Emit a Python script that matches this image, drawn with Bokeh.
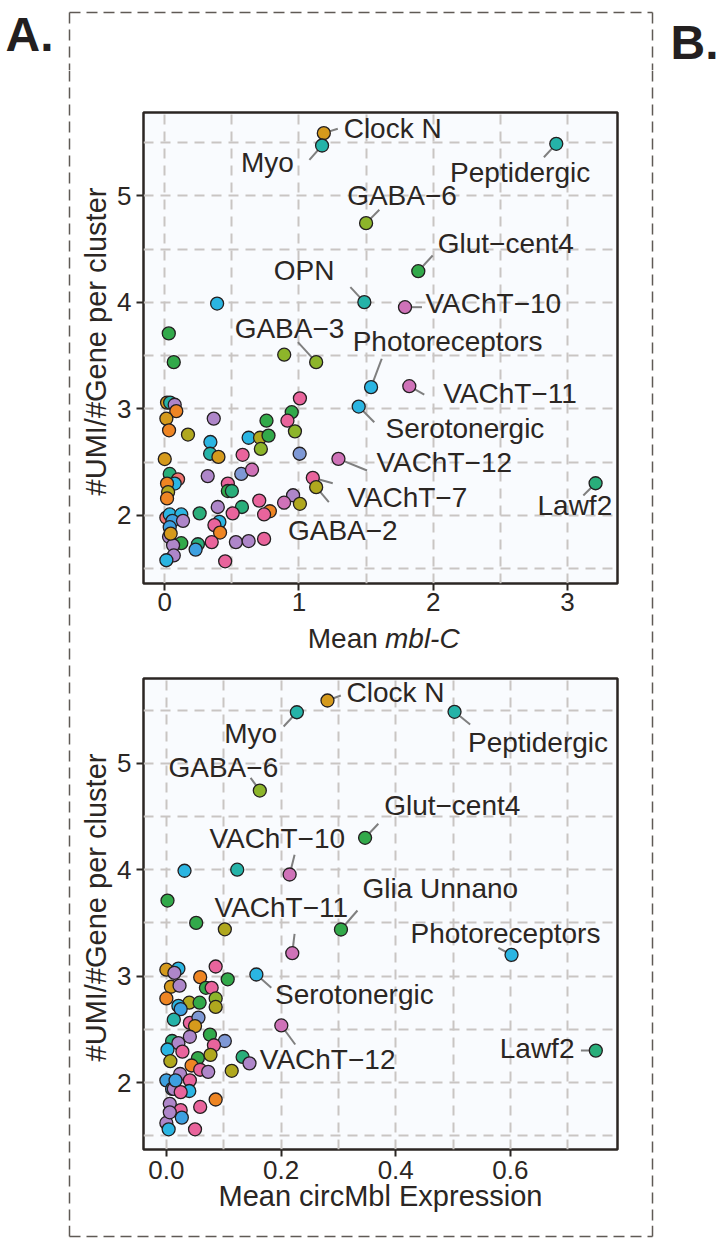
import math
from bokeh.plotting import figure
from bokeh.models import FixedTicker, ColumnDataSource, CustomJSTickFormatter, Range1d
from bokeh.layouts import column, row
from bokeh.embed import file_html
from bokeh.resources import INLINE
from bokeh.core.properties import value

FONT = "Liberation Sans"
INK = "#2B2623"
BOXC = "#5F5A55"
BOXDASH = "11 6"

PAL = {
    "gold": "#D59A1C", "orange": "#EE8523", "salmon": "#F0736E", "olive": "#B0A81E",
    "lime": "#8DB52A", "green": "#32A94A", "tgreen": "#29AE7A", "teal": "#25B3A8",
    "cyan": "#2BB5E2", "blue": "#3DA0E0", "lav": "#7E98D5", "purple": "#AE86C9",
    "orchid": "#CF72B8", "pink": "#E9649C",
}

# ---------------- Panel 1: Mean mbl-C ----------------
top_x = [0.89, 0.067, 0.03, 0.39, 0.017, 0.04, 0.074, 0.086, 0.012, 0.032, 0.173, 0.365,
         0.0, 0.34, 0.338, 0.40, 0.32, 0.037, 0.099, 0.074, 0.017, 0.025, 0.017, 0.47,
         0.47, 0.50, 0.57, 0.65, 0.58, 0.625, 0.71, 0.716, 0.758, 0.773, 1.007, 0.946,
         0.914, 0.97, 1.005, 0.956, 0.889, 1.007, 0.704, 0.783, 0.74, 0.575, 0.506, 0.395,
         0.26, 0.407, 0.37, 0.412, 0.35, 0.53, 0.625, 0.74, 0.45, 0.247, 0.23, 0.123,
         0.012, 0.037, 0.123, 0.057, 0.136, 0.037, 0.032, 0.062, 0.067, 0.012, 0.044]
top_y = [3.51, 3.44, 3.71, 3.99, 3.06, 3.06, 3.04, 2.98, 2.91, 2.80, 2.76, 2.91,
         2.53, 2.69, 2.58, 2.55, 2.37, 2.39, 2.34, 2.30, 2.30, 2.22, 2.16, 2.30,
         2.23, 2.23, 2.39, 2.43, 2.57, 2.73, 2.73, 2.625, 2.89, 2.75, 3.10, 2.97,
         2.89, 2.79, 2.58, 2.19, 2.12, 2.11, 2.14, 2.04, 2.01, 2.08, 2.02, 2.08,
         2.02, 1.94, 1.91, 1.84, 1.75, 1.75, 1.76, 1.78, 1.57, 1.73, 1.68, 1.74,
         1.98, 2.01, 2.01, 1.95, 1.95, 1.89, 1.80, 1.72, 1.625, 1.58, 1.83]
top_c = ["lime", "green", "green", "cyan", "gold", "teal", "purple", "orange", "gold", "orange", "olive", "purple",
         "gold", "cyan", "teal", "gold", "purple", "tgreen", "salmon", "cyan", "orange", "olive", "orange", "pink",
         "green", "tgreen", "lav", "orchid", "pink", "cyan", "olive", "lime", "green", "green", "pink", "green",
         "pink", "lime", "lav", "purple", "orchid", "olive", "pink", "orange", "pink", "tgreen", "pink", "purple",
         "tgreen", "cyan", "pink", "orange", "pink", "purple", "purple", "pink", "pink", "tgreen", "blue", "green",
         "salmon", "cyan", "cyan", "blue", "purple", "blue", "purple", "purple", "purple", "cyan", "gold"]

top_names = ["Clock N", "Myo", "Peptidergic", "GABA\u22126", "Glut\u2212cent4", "OPN", "VAChT\u221210",
             "GABA\u22123", "Photoreceptors", "VAChT\u221211", "Serotonergic", "VAChT\u221212",
             "VAChT\u22127", "GABA\u22122", "Lawf2"]
top_nx = [1.185, 1.172, 2.917, 1.50, 1.889, 1.487, 1.79, 1.128, 1.537, 1.822, 1.445, 1.294, 1.103, 1.128, 3.21]
top_ny = [5.59, 5.474, 5.49, 4.745, 4.294, 4.003, 3.956, 3.44, 3.205, 3.214, 3.023, 2.532, 2.354, 2.266, 2.303]
top_nc = ["gold", "teal", "teal", "lime", "green", "teal", "orchid", "lime", "cyan", "orchid", "cyan", "orchid",
          "pink", "olive", "tgreen"]

# ---------------- Panel 2: Mean circMbl Expression ----------------
bot_x = [0.0317, 0.1236, 0.002, 0.052, 0.102, 0.0, 0.021, 0.014, 0.059, 0.086, 0.107, 0.008,
         0.023, 0.0, 0.069, 0.079, 0.086, 0.086, 0.04, 0.058, 0.021, 0.025, 0.013, 0.041,
         0.056, 0.05, 0.041, 0.076, 0.102, 0.083, 0.01, 0.021, 0.002, 0.028, 0.007, 0.055,
         0.077, 0.133, 0.145, 0.114, 0.044, 0.059, 0.073, 0.024, 0.041, 0.0, 0.01, 0.04,
         0.013, 0.025, 0.086, 0.006, 0.059, 0.025, 0.027, 0.0, 0.004, 0.05, 0.006, 0.016]
bot_y = [3.99, 4.0, 3.71, 3.50, 3.44, 3.06, 3.07, 3.03, 2.99, 3.09, 2.97, 2.90,
         2.91, 2.79, 2.89, 2.89, 2.79, 2.71, 2.75, 2.75, 2.72, 2.69, 2.59, 2.56,
         2.61, 2.53, 2.43, 2.45, 2.39, 2.35, 2.39, 2.37, 2.31, 2.29, 2.20, 2.23,
         2.26, 2.24, 2.18, 2.11, 2.16, 2.12, 2.10, 2.08, 2.02, 2.02, 1.94, 1.92,
         1.94, 1.91, 1.84, 1.80, 1.77, 1.74, 1.67, 1.62, 1.56, 1.56, 1.72, 2.02]
bot_c = ["cyan", "teal", "green", "green", "olive", "gold", "cyan", "purple", "orange", "pink", "green", "gold",
         "purple", "orange", "green", "pink", "lime", "olive", "olive", "green", "cyan", "blue", "teal", "pink",
         "lav", "gold", "purple", "green", "lav", "pink", "tgreen", "purple", "cyan", "pink", "olive", "green",
         "olive", "tgreen", "purple", "olive", "orange", "pink", "purple", "purple", "pink", "blue", "blue", "cyan",
         "purple", "pink", "orange", "purple", "pink", "pink", "blue", "purple", "cyan", "pink", "purple", "blue"]

bot_names = ["Clock N", "Myo", "Peptidergic", "GABA\u22126", "Glut\u2212cent4", "VAChT\u221210",
             "VAChT\u221211", "Glia Unnano", "Photoreceptors", "Serotonergic", "VAChT\u221212", "Lawf2"]
bot_nx = [0.281, 0.2276, 0.5026, 0.163, 0.3466, 0.215, 0.2196, 0.3045, 0.602, 0.157, 0.2005, 0.749]
bot_ny = [5.59, 5.48, 5.484, 4.744, 4.30, 3.955, 3.215, 3.438, 3.20, 3.015, 2.536, 2.30]
bot_nc = ["gold", "teal", "teal", "lime", "green", "orchid", "orchid", "green", "cyan", "cyan", "orchid", "tgreen"]

# ---------------- layout: pixel offsets of label centres / leader ends from their point ----------------
top_lab_off = [(69, -4.7, 14, -4.4), (-54.8, 16.7, -12.7, 14.3), (-36.2, 28.4, -12.4, 13.4),
               (36, -27.7, 13.3, -13.4), (87.7, -27.4, 14.4, -15.7), (-60.3, -31.7, -14, -15),
               (88.5, -3.4, 17, 0), (-26.7, -33.4, -18.3, -20), (76.7, -45.7, 10.7, -28.4),
               (100.9, 7.6, 15, 8.3), (106.5, 22.3, 15.6, 15.7), (106, 3.4, 28.7, 11.7),
               (94.6, 19.4, 20, 5.4), (26.7, 43.3, 12.7, 15), (-20.8, 22.3, -12.3, 12.3)]
bot_lab_off = [(68.4, -8.3, 13.4, -5), (-46.5, 21.6, -13.3, 14.3), (84, 30.4, 15.7, 12.7),
               (-36.7, -23.3, -9.3, -12.7), (87.7, -32.3, 13.3, -14), (-12.5, -35.7, 5, -19.7),
               (-11, -45.7, 2.3, -19.4), (100, -40.7, 16.6, -19), (-6.1, -21, -13.3, -7),
               (98.6, 20, 15, 13.3), (46.6, 34.3, 14, 19), (-59.1, -1.7, -15, 0)]

# page geometry (px)
W = 724
LEFT_W, CENTER_W, RIGHT_W = 114, 526, 84
TOP_H, MID_ROW_H, BOT_H = 70, 1155, 17
P1_H, MID_H, P2_H = 552, 35, 568
BOX = (69, 652, 12, 1236)   # dashed panel box: left, right, top, bottom


def strip(w, h):
    s = figure(width=w, height=h, x_range=Range1d(0, w), y_range=Range1d(h, 0),
               x_axis_type=None, y_axis_type=None, output_backend="svg", toolbar_location=None,
               min_border=0, outline_line_color=None, background_fill_color="white",
               border_fill_color="white")
    s.grid.visible = False
    return s


def dashed(s, x0, y0, x1, y1):
    s.segment(x0=x0, y0=y0, x1=x1, y1=y1, line_color=BOXC, line_width=1.5, line_dash=BOXDASH)


def make_panel(w, h, frame, xr, yr, xs, ys, cs, names, nx, ny, nc, offs, xticks, xminor, fmt1):
    bl, bt, fw, fh = frame
    x0, x1 = xr
    y0, y1 = yr
    kx = (x1 - x0) / fw
    ky = (y1 - y0) / fh
    p = figure(width=w, height=h, x_range=Range1d(x0, x1), y_range=Range1d(y0, y1),
               output_backend="svg", toolbar_location=None,
               min_border_left=bl, min_border_right=w - bl - fw,
               min_border_top=bt, min_border_bottom=h - bt - fh,
               background_fill_color="#F9FBFE", border_fill_color="white",
               outline_line_color=INK, outline_line_width=2.5)
    p.xaxis.ticker = FixedTicker(ticks=xticks, minor_ticks=xminor)
    p.yaxis.ticker = FixedTicker(ticks=[2, 3, 4, 5], minor_ticks=[1.5, 2.5, 3.5, 4.5, 5.5])
    if fmt1:
        p.xaxis.formatter = CustomJSTickFormatter(code="return tick.toFixed(1);")
    for ax in (p.xaxis[0], p.yaxis[0]):
        ax.axis_line_color = None
        ax.major_tick_line_color = INK
        ax.major_tick_line_width = 2
        ax.major_tick_out = 7
        ax.major_tick_in = 0
        ax.minor_tick_line_color = None
        ax.major_label_text_font = FONT
        ax.major_label_text_font_size = "26px"
        ax.major_label_text_color = INK
    p.xaxis.major_label_standoff = 2
    p.yaxis.major_label_standoff = 5
    for g in (p.xgrid[0], p.ygrid[0]):
        g.grid_line_color = "#C9C5C3"
        g.grid_line_dash = "10 7"
        g.grid_line_width = 2
        g.minor_grid_line_color = "#C9C5C3"
        g.minor_grid_line_dash = "10 7"
        g.minor_grid_line_width = 2

    sx1 = [x + o[2] * kx for x, o in zip(nx, offs)]
    sy1 = [y - o[3] * ky for y, o in zip(ny, offs)]
    lx = [x + o[0] * kx for x, o in zip(nx, offs)]
    ly = [y - o[1] * ky for y, o in zip(ny, offs)]
    p.segment(x0=nx, y0=ny, x1=sx1, y1=sy1, line_color="#7F7F7F", line_width=2)

    src = ColumnDataSource(dict(x=list(xs) + list(nx), y=list(ys) + list(ny),
                                c=[PAL[k] for k in list(cs) + list(nc)]))
    p.scatter("x", "y", source=src, size=13, fill_color="c", line_color="#231F20", line_width=1.3)
    p.text(x=lx, y=ly, text=names, text_align="center", text_baseline="middle",
           text_font=value(FONT), text_font_size="28px", text_color=INK)
    return p


# top panel: canvas x 114..640, y 70..622 ; frame 142..617 x 112..583
p1 = make_panel(CENTER_W, P1_H, (28, 42, 475, 471), (-0.1584, 3.3732), (1.3615, 5.784),
                top_x, top_y, top_c, top_names, top_nx, top_ny, top_nc, top_lab_off,
                [0, 1, 2, 3], [0.5, 1.5, 2.5, 3.5], False)

# strip holding the first x title (page y 622..657)
mid = strip(CENTER_W, MID_H)
mid.text(x=[260], y=[16], text=["Mean"], text_align="right", text_baseline="middle",
         text_font=value(FONT), text_font_size="28px", text_color=INK)
mid.text(x=[268], y=[16], text=["mbl-C"], text_align="left", text_baseline="middle",
         text_font=value(FONT), text_font_size="28px", text_font_style="italic", text_color=INK)

# bottom panel: canvas x 114..640, y 657..1225 ; frame 143..620 x 678..1149
p2 = make_panel(CENTER_W, P2_H, (29, 21, 477, 471), (-0.03986, 0.7868), (1.3703, 5.797),
                bot_x, bot_y, bot_c, bot_names, bot_nx, bot_ny, bot_nc, bot_lab_off,
                [0, 0.2, 0.4, 0.6], [0.1, 0.3, 0.5, 0.7], True)
p2.xaxis.major_label_standoff = 4
p2.xaxis.axis_label = "Mean circMbl Expression"
p2.xaxis.axis_label_text_font = FONT
p2.xaxis.axis_label_text_font_size = "29px"
p2.xaxis.axis_label_text_font_style = "normal"
p2.xaxis.axis_label_text_color = INK
p2.xaxis.axis_label_standoff = -2

# top strip: panel letters and top of dashed box (page y 0..70)
top = strip(W, TOP_H)
top.text(x=[5], y=[33.5], text=["A."], text_align="left", text_baseline="middle",
         text_font=value(FONT), text_font_size="48px", text_font_style="bold", text_color="#231F20")
top.text(x=[670], y=[42], text=["B."], text_align="left", text_baseline="middle",
         text_font=value(FONT), text_font_size="48px", text_font_style="bold", text_color="#231F20")
dashed(top, [BOX[0], BOX[0], BOX[1]], [BOX[2], BOX[2], BOX[2]], [BOX[1], BOX[0], BOX[1]], [BOX[2], TOP_H, TOP_H])

# left strip: box edge and y titles (page x 0..114, y 70..1225)
left = strip(LEFT_W, MID_ROW_H)
dashed(left, [BOX[0]], [0], [BOX[0]], [MID_ROW_H])
left.text(x=[95, 95], y=[341 - TOP_H, 907 - TOP_H],
          text=["#UMI/#Gene per cluster", "#UMI/#Gene per cluster"],
          angle=math.pi / 2, text_align="center", text_baseline="middle",
          text_font=value(FONT), text_font_size="29px", text_color=INK)

# right strip: box edge (page x 640..724)
right = strip(RIGHT_W, MID_ROW_H)
dashed(right, [BOX[1] - 640], [0], [BOX[1] - 640], [MID_ROW_H])

# bottom strip: bottom of dashed box (page y 1225..1242)
bot = strip(W, BOT_H)
by = BOX[3] - (TOP_H + MID_ROW_H)
dashed(bot, [BOX[0], BOX[1], BOX[0]], [0, 0, by], [BOX[0], BOX[1], BOX[1]], [by, by, by])

layout = column(top, row(left, column(p1, mid, p2, spacing=0), right, spacing=0), bot, spacing=0)
open("out.html", "w").write(file_html(layout, INLINE))
